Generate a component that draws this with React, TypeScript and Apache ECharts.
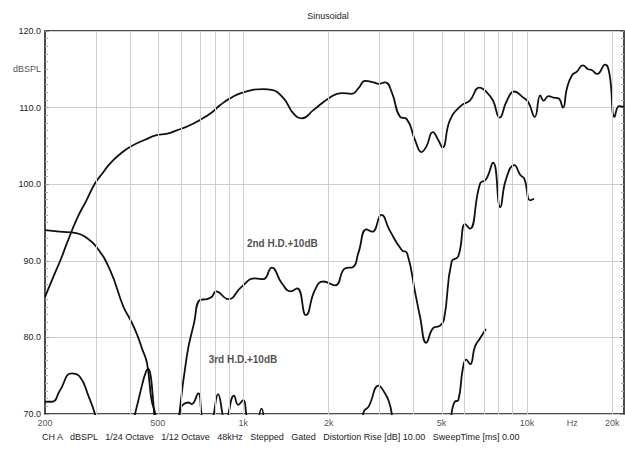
import React, { useEffect, useRef } from "react";
import * as echarts from "echarts";

// Fundamental response (Hz, dBSPL)
const fundFreq = [200, 214, 228, 239, 260, 280, 300, 320, 339, 370, 400, 450, 495, 540, 580, 640, 705, 770, 828, 898, 1000, 1177, 1260, 1388, 1505, 1610, 1771, 2000, 2222, 2410, 2545, 2690, 2880, 3000, 3160, 3340, 3570, 3770, 4040, 4250, 4420, 4660, 4880, 5040, 5360, 5880, 6290, 6800, 7300, 7600, 8020, 8500, 9030, 9720, 10120, 10660, 11150, 11450, 11920, 12420, 12930, 13400, 13840, 14410, 15000, 15750, 16470, 16920, 17700, 18860, 19550, 20380, 21150, 22000];
const fundDb = [85.3, 87.9, 90.3, 92.3, 95.6, 97.9, 100.1, 101.5, 102.7, 104.0, 104.9, 105.8, 106.4, 106.6, 107.0, 107.6, 108.4, 109.3, 110.3, 111.2, 112.0, 112.4, 112.3, 111.2, 109.2, 108.6, 109.7, 111.2, 111.9, 111.8, 112.5, 113.5, 113.3, 113.1, 113.3, 112.0, 108.8, 108.5, 105.7, 104.2, 104.9, 106.8, 105.7, 104.8, 108.4, 110.3, 110.9, 112.6, 111.8, 110.9, 108.7, 110.9, 112.1, 111.3, 110.7, 108.8, 111.6, 110.9, 111.5, 111.3, 111.2, 110.0, 112.5, 114.2, 114.7, 115.5, 115.0, 114.9, 114.4, 115.6, 114.4, 108.8, 110.2, 110.1];

// 2nd harmonic distortion +10 dB (null = gap below 70 dB)
const h2Freq = [200, 225, 258, 280, 304, 339, 378, 400, 421, 440, 458, 475, 490, 497, 540, 590, 632, 670, 705, 744, 775, 801, 886, 986, 1100, 1177, 1260, 1366, 1470, 1550, 1664, 1790, 1915, 2108, 2283, 2440, 2545, 2720, 2850, 3070, 3280, 3620, 3780, 4040, 4200, 4420, 4670, 4920, 5100, 5430, 5730, 6060, 6290, 6840, 7170, 7600, 8060, 8420, 9030, 9480, 9800, 10270, 10600];
const h2Db = [94.0, 93.8, 93.6, 93.0, 91.8, 88.8, 84.0, 82.3, 80.5, 78.5, 76.6, 71.8, 70.0, 68.0, null, 68.5, 77.5, 81.8, 84.9, 85.0, 85.3, 86.0, 85.0, 86.6, 87.7, 87.6, 89.1, 87.1, 86.0, 86.4, 82.9, 86.2, 87.3, 86.8, 89.0, 89.2, 91.0, 94.1, 93.8, 96.0, 94.0, 91.4, 91.0, 85.8, 82.7, 79.3, 81.2, 81.5, 82.3, 89.9, 90.6, 94.8, 94.2, 100.1, 100.6, 102.8, 97.0, 100.5, 102.5, 101.2, 100.7, 97.9, 98.1];

// 3rd harmonic distortion +10 dB (null = gap below 70 dB)
const h3Freq = [200, 212, 226, 248, 265, 285, 300, 305, 360, 412, 425, 440, 452, 462, 470, 478, 484, 488, 540, 590, 600, 612, 640, 658, 694, 710, 716, 750, 780, 790, 815, 842, 852, 870, 880, 890, 928, 960, 1000, 1022, 1030, 1080, 1130, 1160, 1185, 2000, 2620, 2660, 2770, 3000, 3160, 3250, 3340, 3360, 4500, 5380, 5450, 5570, 5730, 5950, 6110, 6310, 6560, 6840, 7170];
const h3Db = [71.6, 71.6, 73.1, 75.3, 74.9, 72.3, 70.0, 68.5, null, 69.5, 71.5, 73.8, 75.3, 75.9, 75.3, 73.0, 70.5, 68.5, null, 68.5, 70.5, 71.2, 71.5, 71.3, 72.7, 70.5, 68.5, null, 68.5, 70.3, 72.6, 70.3, 68.5, null, 68.5, 70.3, 72.4, 71.2, 71.8, 70.3, 68.5, null, 69.0, 70.7, 69.0, null, 68.5, 70.3, 71.0, 73.7, 72.7, 71.8, 70.0, 68.5, null, 68.5, 70.5, 71.6, 71.8, 76.0, 77.1, 76.5, 78.8, 79.9, 81.1];

// Axis ticks
const gridFreqs = [300, 400, 500, 600, 700, 800, 900, 1000, 2000, 3000, 4000, 5000, 6000, 7000, 8000, 9000, 10000, 20000];
const xLabelFreqs = [200, 500, 1000, 2000, 5000, 10000, 14440, 20000];
const xLabelTexts = ["200", "500", "1k", "2k", "5k", "10k", "Hz", "20k"];
const yMin = 70;
const yMax = 120;

const curveLabels = [
  { text: "2nd H.D.+10dB", freq: 1030, db: 92.3 },
  { text: "3rd H.D.+10dB", freq: 755, db: 77.1 },
];

const footer =
  "CH A   dBSPL   1/24 Octave   1/12 Octave   48kHz   Stepped   Gated   Distortion Rise [dB] 10.00   SweepTime [ms] 0.00";

const L = (f: number) => Math.log10(f);
const toData = (fs: number[], ds: (number | null)[]) =>
  fs.map((f, i) => [L(f), ds[i] === null ? "-" : ds[i]]);

const FONT = "Liberation Sans, Arial, sans-serif";

export default function App() {
  const ref = useRef<HTMLDivElement>(null);
  useEffect(() => {
    if (!ref.current) return;
    const chart = echarts.init(ref.current, undefined, { renderer: "svg" });
    const curveStyle = { color: "#111", width: 1.8 };
    const curve = (data: any[]) => ({
      type: "line",
      z: 3,
      data,
      smooth: 0.5,
      symbol: "none",
      connectNulls: false,
      lineStyle: curveStyle,
      clip: true,
    });
    chart.setOption({
      animation: false,
      backgroundColor: "#fff",
      textStyle: { fontFamily: FONT },
      title: {
        text: "Sinusoidal",
        left: 323,
        top: 6,
        textAlign: "center",
        textStyle: { fontSize: 9, fontWeight: "normal", color: "#222", fontFamily: FONT },
      },
      graphic: [
        {
          type: "text",
          left: 42,
          top: 432,
          style: { text: footer, fontSize: 9, fill: "#222", fontFamily: FONT },
        },
      ],
      grid: {
        left: 45,
        top: 31,
        width: 579,
        height: 383,
        show: true,
        borderColor: "#111",
        borderWidth: 1.5,
        backgroundColor: "#fff",
      },
      xAxis: {
        type: "value",
        min: L(200),
        max: L(22000),
        axisLine: { show: false },
        axisTick: { show: false },
        axisLabel: { show: false },
        splitLine: { show: false },
      },
      yAxis: [
        {
          type: "value",
          min: yMin,
          max: yMax,
          interval: 10,
          axisLine: { show: false },
          axisTick: { show: true, inside: true, length: 4, lineStyle: { color: "#999" } },
          minorTick: { show: true, splitNumber: 10, length: 3, lineStyle: { color: "#aaa" } },
          axisLabel: {
            formatter: (v: number) => v.toFixed(1),
            fontSize: 9,
            color: "#222",
            margin: 4,
            fontFamily: FONT,
          },
          splitLine: { show: true, lineStyle: { color: "#cfcfcf", width: 1 } },
        },
        {
          type: "value",
          position: "right",
          min: yMin,
          max: yMax,
          interval: 10,
          axisLine: { show: false },
          axisTick: { show: true, inside: true, length: 4, lineStyle: { color: "#999" } },
          minorTick: { show: true, splitNumber: 10, length: 3, lineStyle: { color: "#aaa" } },
          axisLabel: { show: false },
          splitLine: { show: false },
        },
      ],
      series: [
        {
          type: "scatter",
          z: 1,
          symbolSize: 0,
          silent: true,
          data: xLabelFreqs.map((f, i) => ({ value: [L(f), yMin], name: xLabelTexts[i] })),
          label: {
            show: true,
            position: "bottom",
            distance: 4,
            formatter: (p: any) => p.name,
            fontSize: 9,
            color: "#222",
            fontFamily: FONT,
          },
          markLine: {
            silent: true,
            symbol: ["none", "none"],
            label: { show: false },
            lineStyle: { color: "#cfcfcf", width: 1, type: "solid" },
            data: gridFreqs.map((f) => ({ xAxis: L(f) })),
          },
        },
        {
          type: "scatter",
          z: 1,
          symbolSize: 0,
          silent: true,
          data: [{ value: [L(200), 115.1], name: "dBSPL" }],
          label: {
            show: true,
            position: "left",
            distance: 4,
            formatter: (p: any) => p.name,
            fontSize: 9,
            color: "#222",
            fontFamily: FONT,
          },
        },
        {
          type: "scatter",
          z: 5,
          symbolSize: 0,
          silent: true,
          data: curveLabels.map((c) => ({ value: [L(c.freq), c.db], name: c.text })),
          label: {
            show: true,
            position: "right",
            distance: 0,
            formatter: (p: any) => p.name,
            fontSize: 10,
            fontWeight: "bold",
            color: "#222",
            fontFamily: FONT,
          },
        },
        curve(toData(fundFreq, fundDb)),
        curve(toData(h2Freq, h2Db)),
        curve(toData(h3Freq, h3Db)),
      ],
    });
    return () => chart.dispose();
  }, []);
  return <div ref={ref} style={{ width: 625, height: 452, position: "absolute", left: 0, top: 0 }} />;
}
